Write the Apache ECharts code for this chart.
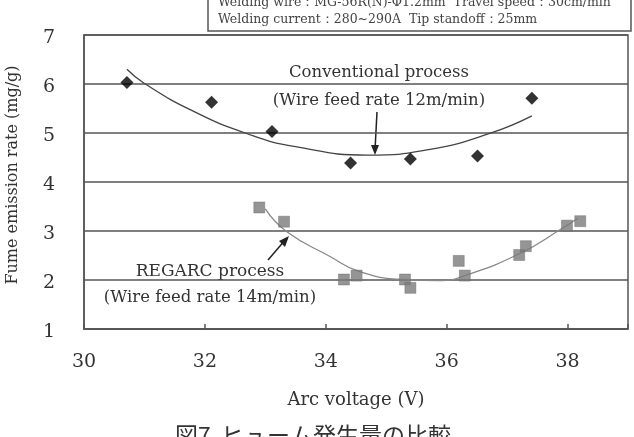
<!DOCTYPE html>
<html><head><meta charset="utf-8">
<script src="https://cdn.jsdelivr.net/npm/echarts@6/dist/echarts.min.js"></script>
<style>html,body{margin:0;padding:0;background:#fff}#c{width:634px;height:437px}</style>
</head><body><div id="c"></div>
<script>
// Conventional process (black diamonds)
const convX = [30.71, 32.11, 33.11, 34.41, 35.40, 36.51, 37.41];
const convY = [6.03, 5.63, 5.03, 4.39, 4.47, 4.53, 5.71];
// Conventional trend curve
const convTrendX = [30.71, 31.0, 31.8, 32.69, 33.5, 34.7, 35.7, 36.71, 37.41];
const convTrendY = [6.30, 6.01, 5.45, 4.99, 4.72, 4.55, 4.66, 4.99, 5.35];
// REGARC process (gray squares)
const regX = [32.90, 33.31, 34.30, 34.51, 35.31, 35.40, 36.20, 36.30, 37.20, 37.31, 37.99, 38.21];
const regY = [3.48, 3.19, 2.01, 2.09, 2.01, 1.84, 2.39, 2.09, 2.51, 2.69, 3.11, 3.20];
// REGARC trend curve
const regTrendX = [33.0, 33.35, 34.07, 34.56, 35.3, 35.9, 36.3, 37.21, 37.92, 38.17];
const regTrendY = [3.45, 2.99, 2.48, 2.17, 2.01, 1.99, 2.09, 2.54, 3.06, 3.26];
// Axes
const xTicks = [30, 32, 34, 36, 38];
const yTicks = [1, 2, 3, 4, 5, 6, 7];

const zip = (a, b) => a.map((v, i) => [v, b[i]]);
const serif = '"DejaVu Serif", "Liberation Serif", serif';
const chart = echarts.init(document.getElementById('c'));
chart.setOption({
  animation: false,
  backgroundColor: '#fff',
  grid: { left: 84, top: 35, right: 6, bottom: 108, show: true, borderColor: '#555', borderWidth: 1.5 },
  xAxis: {
    type: 'value', min: xTicks[0], max: 39, interval: 2,
    name: 'Arc voltage (V)', nameLocation: 'middle', nameGap: 62,
    nameTextStyle: { fontFamily: serif, fontSize: 18, color: '#333' },
    axisLine: { show: true, lineStyle: { color: '#555', width: 1.5 } },
    axisTick: { show: true, inside: true, length: 5, lineStyle: { color: '#555', width: 1.5 } },
    axisLabel: { fontFamily: serif, fontSize: 19, color: '#333', margin: 24,
      formatter: v => xTicks.includes(v) ? String(v) : '' },
    splitLine: { show: false }
  },
  yAxis: {
    type: 'value', min: yTicks[0], max: yTicks[yTicks.length - 1], interval: 1,
    axisLine: { show: true, lineStyle: { color: '#555', width: 1.5 } },
    axisTick: { show: false },
    axisLabel: { margin: 29, formatter: v => '{v|' + v + '}',
      rich: { v: { fontFamily: serif, fontSize: 19, color: '#333', padding: [7, 0, 0, 0] } } },
    splitLine: { show: true, lineStyle: { color: '#555', width: 1.5 } }
  },
  series: [
    { type: 'line', data: zip(convTrendX, convTrendY), smooth: true, symbol: 'none',
      lineStyle: { color: '#444', width: 1.3 }, z: 2 },
    { type: 'line', data: zip(regTrendX, regTrendY), smooth: true, symbol: 'none',
      lineStyle: { color: '#888', width: 1.3 }, z: 2 },
    { type: 'scatter', data: zip(convX, convY), symbol: 'path://M0,-1L1,0L0,1L-1,0Z', symbolSize: 13,
      itemStyle: { color: '#000' }, z: 3 },
    { type: 'scatter', data: zip(regX, regY), symbol: 'rect', symbolSize: 11,
      itemStyle: { color: '#7a7a7a', borderColor: '#666', borderWidth: 0.5 }, z: 3 }
  ],
  graphic: [
    { type: 'text', x: 13, y: 175, rotation: Math.PI / 2,
      style: { text: 'Fume emission rate (mg/g)', font: '16px ' + serif, fill: '#333',
        textAlign: 'center', textVerticalAlign: 'middle' } },
    { type: 'rect', shape: { x: 208, y: -12, width: 423, height: 43 },
      style: { fill: '#fff', stroke: '#555', lineWidth: 1.5 } },
    { type: 'text', x: 218, y: 3, style: { text: 'Welding wire：MG-56R(N)-Φ1.2mm  Travel speed：30cm/min',
      font: '12.5px ' + serif, fill: '#444', textVerticalAlign: 'middle' } },
    { type: 'text', x: 218, y: 20, style: { text: 'Welding current：280~290A  Tip standoff：25mm',
      font: '12.5px ' + serif, fill: '#444', textVerticalAlign: 'middle' } },
    { type: 'text', x: 379, y: 73, style: { text: 'Conventional process', font: '16.5px ' + serif,
      fill: '#333', textAlign: 'center', textVerticalAlign: 'middle' } },
    { type: 'text', x: 379, y: 101, style: { text: '(Wire feed rate 12m/min)', font: '16.5px ' + serif,
      fill: '#333', textAlign: 'center', textVerticalAlign: 'middle' } },
    { type: 'line', shape: { x1: 377, y1: 112, x2: 375, y2: 150 }, style: { stroke: '#222', lineWidth: 1.5 } },
    { type: 'polygon', shape: { points: [[375, 155], [371, 145], [379, 145]] }, style: { fill: '#222' } },
    { type: 'text', x: 210, y: 272, style: { text: 'REGARC process', font: '17px ' + serif,
      fill: '#333', textAlign: 'center', textVerticalAlign: 'middle' } },
    { type: 'text', x: 210, y: 298, style: { text: '(Wire feed rate 14m/min)', font: '16.5px ' + serif,
      fill: '#333', textAlign: 'center', textVerticalAlign: 'middle' } },
    { type: 'line', shape: { x1: 268, y1: 260, x2: 286, y2: 239 }, style: { stroke: '#222', lineWidth: 1.5 } },
    { type: 'polygon', shape: { points: [[289, 236], [279, 241], [285, 247]] }, style: { fill: '#222' } },
    { type: 'text', x: 313, y: 435, style: { text: '図7  ヒューム発生量の比較', font: '23px "Noto Sans CJK JP", sans-serif',
      fill: '#333', textAlign: 'center', textVerticalAlign: 'middle' } }
  ]
});
</script></body></html>
